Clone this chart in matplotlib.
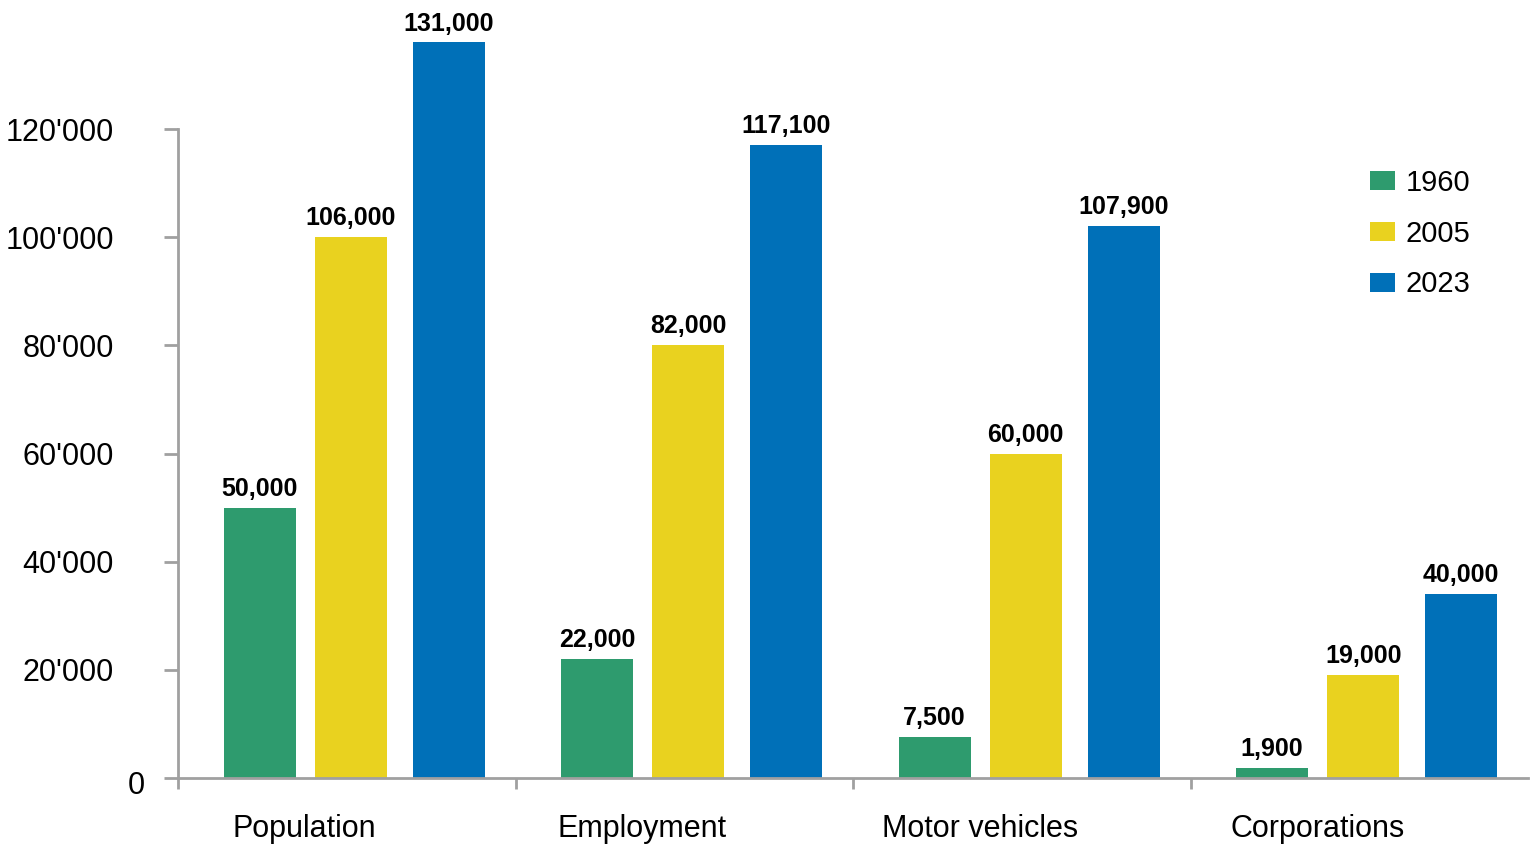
import matplotlib.pyplot as plt
import matplotlib.transforms as mtransforms
import numpy as np

plt.rcParams['font.family'] = ['Liberation Sans', 'DejaVu Sans']

categories = ['Population', 'Employment', 'Motor vehicles', 'Corporations']
years = ['1960', '2005', '2023']

# bar heights as drawn in the picture
values_1960 = [50000, 22000, 7500, 1900]
values_2005 = [100000, 80000, 60000, 19000]
values_2023 = [136000, 117000, 102000, 34000]

# labels printed above the bars
labels_1960 = ['50,000', '22,000', '7,500', '1,900']
labels_2005 = ['106,000', '82,000', '60,000', '19,000']
labels_2023 = ['131,000', '117,100', '107,900', '40,000']

yticks = [0, 20000, 40000, 60000, 80000, 100000, 120000]

colors = ['#2e9b6e', '#e9d21f', '#0070b8']

fig = plt.figure(figsize=(15.3, 8.47), dpi=100)
ax = fig.add_axes([178 / 1530, 1 - 778 / 847, 1350 / 1530, 768 / 847])

x = np.arange(len(categories))
offsets = [-0.258, 0.012, 0.302]
width = 0.213
series = [values_1960, values_2005, values_2023]
label_sets = [labels_1960, labels_2005, labels_2023]

for vals, labs, off, col, yr in zip(series, label_sets, offsets, colors, years):
    bars = ax.bar(x + off, vals, width, color=col, label=yr)
    ax.bar_label(bars, labels=labs, padding=5, fontsize=18, fontweight='bold')

ax.set_xlim(-0.5, len(categories) - 0.5)
ax.set_ylim(0, 768 / 649 * 120000)

ax.set_yticks(yticks)
ax.set_yticklabels([f"{v:,}".replace(',', "'") for v in yticks], fontsize=22)
ax.set_xticks(x)
ax.set_xticklabels(categories, fontsize=22)
ax.set_xticks(np.arange(-0.5, len(categories) - 0.5, 1), minor=True)
ax.tick_params(axis='x', which='major', length=0, pad=26)
ax.tick_params(axis='x', which='minor', length=8, width=2, color='#a0a0a0')
ax.tick_params(axis='y', length=10, width=2, color='#a0a0a0', pad=36)

# category names sit a bit left of the group centres in the original
for lab in ax.get_xticklabels():
    lab.set_transform(lab.get_transform() +
                      mtransforms.ScaledTranslation(-0.42, 0, fig.dpi_scale_trans))

# the "0" label sits closer to the axis in the original
zero_lab = ax.get_yticklabels()[0]
zero_lab.set_transform(zero_lab.get_transform() +
                       mtransforms.ScaledTranslation(0.31, -0.04, fig.dpi_scale_trans))

for s in ['top', 'right']:
    ax.spines[s].set_visible(False)
for s in ['left', 'bottom']:
    ax.spines[s].set_color('#a0a0a0')
    ax.spines[s].set_linewidth(2)
ax.spines['left'].set_bounds(0, 120000)

ax.legend(loc='upper left', bbox_to_anchor=(1370 / 1530, 1 - 169 / 847),
          bbox_transform=fig.transFigure, frameon=False, fontsize=21,
          borderpad=0, borderaxespad=0,
          handlelength=0.86, handleheight=0.62, handletextpad=0.35, labelspacing=0.78)

fig.savefig('out.png', dpi=100)
